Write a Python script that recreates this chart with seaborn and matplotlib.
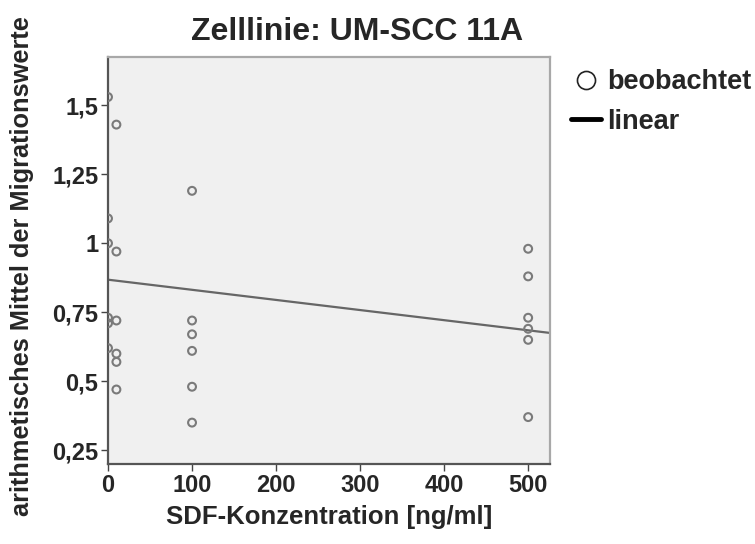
import numpy as np
import pandas as pd
import matplotlib
matplotlib.use("Agg")
import matplotlib.pyplot as plt
from matplotlib.lines import Line2D
import seaborn as sns

# Data
concentration = [0, 0, 0, 0, 0, 0,
                 10, 10, 10, 10, 10, 10,
                 100, 100, 100, 100, 100, 100,
                 500, 500, 500, 500, 500, 500]
migration = [1.53, 1.09, 1.00, 0.73, 0.71, 0.62,
             1.43, 0.97, 0.72, 0.60, 0.57, 0.47,
             1.19, 0.72, 0.67, 0.61, 0.48, 0.35,
             0.98, 0.88, 0.73, 0.69, 0.65, 0.37]
# linear fit line as shown in the chart (endpoints)
fit_x = [0, 526]
fit_y = [0.868, 0.675]
yticks = [0.25, 0.5, 0.75, 1.0, 1.25, 1.5]
ytick_labels = ["0,25", "0,5", "0,75", "1", "1,25", "1,5"]
xticks = [0, 100, 200, 300, 400, 500]

df = pd.DataFrame({"SDF": concentration, "Migration": migration})
fit_df = pd.DataFrame({"SDF": fit_x, "Migration": fit_y})

sns.set_theme(style="white")
plt.rcParams['font.family'] = ['Liberation Sans', 'DejaVu Sans']

fig = plt.figure(figsize=(7.55, 5.44), dpi=100)
ax = fig.add_axes([108 / 755, 1 - 464 / 544, 442 / 755, 407 / 544])
ax.set_facecolor("#F0F0F0")
ax.set_xlim(0, 526)
ax.set_ylim(0.2, 1.675)

sns.lineplot(data=fit_df, x="SDF", y="Migration", ax=ax, color="#666666",
             linewidth=1.6, legend=False)
sns.scatterplot(data=df, x="SDF", y="Migration", ax=ax, s=32,
                facecolors="none", edgecolor="#7a7a7a", linewidth=1.5,
                legend=False, zorder=3)

ax.set_xticks(xticks)
ax.set_xticklabels([str(t) for t in xticks], fontsize=17, fontweight="bold")
ax.set_yticks(yticks)
ax.set_yticklabels(ytick_labels, fontsize=17, fontweight="bold")
ax.tick_params(axis="both", direction="out", length=5, width=1, color="#444444", pad=2)
ax.tick_params(axis="both", bottom=True, left=True)
for name, s in ax.spines.items():
    s.set_linewidth(1.6)
    s.set_color("#555555" if name in ("left", "bottom") else "#a8a8a8")

ax.set_xlabel("SDF-Konzentration [ng/ml]", fontsize=18.5, fontweight="bold", labelpad=6)
ax.set_ylabel("")
fig.text(22 / 755, 1 - 266 / 544, "arithmetisches Mittel der Migrationswerte",
         rotation=90, ha="center", va="center", fontsize=18.3, fontweight="bold")
fig.text(357 / 755, 1 - 32 / 544, "Zelllinie: UM-SCC 11A", ha="center", va="center",
         fontsize=23, fontweight="bold")

handles = [Line2D([], [], marker="o", linestyle="none", markerfacecolor="none",
                  markeredgecolor="#222222", markersize=13, markeredgewidth=1.2),
           Line2D([], [], color="black", linewidth=3.5)]
leg = fig.legend(handles, ["beobachtet", "linear"], loc="upper left",
                 bbox_to_anchor=(571 / 755, 1 - 69 / 544), frameon=False,
                 prop=dict(weight="bold", size=19.5), handlelength=1.1,
                 handletextpad=0.25, labelspacing=0.5, borderaxespad=0,
                 borderpad=0)

fig.savefig("out.png", dpi=100)
